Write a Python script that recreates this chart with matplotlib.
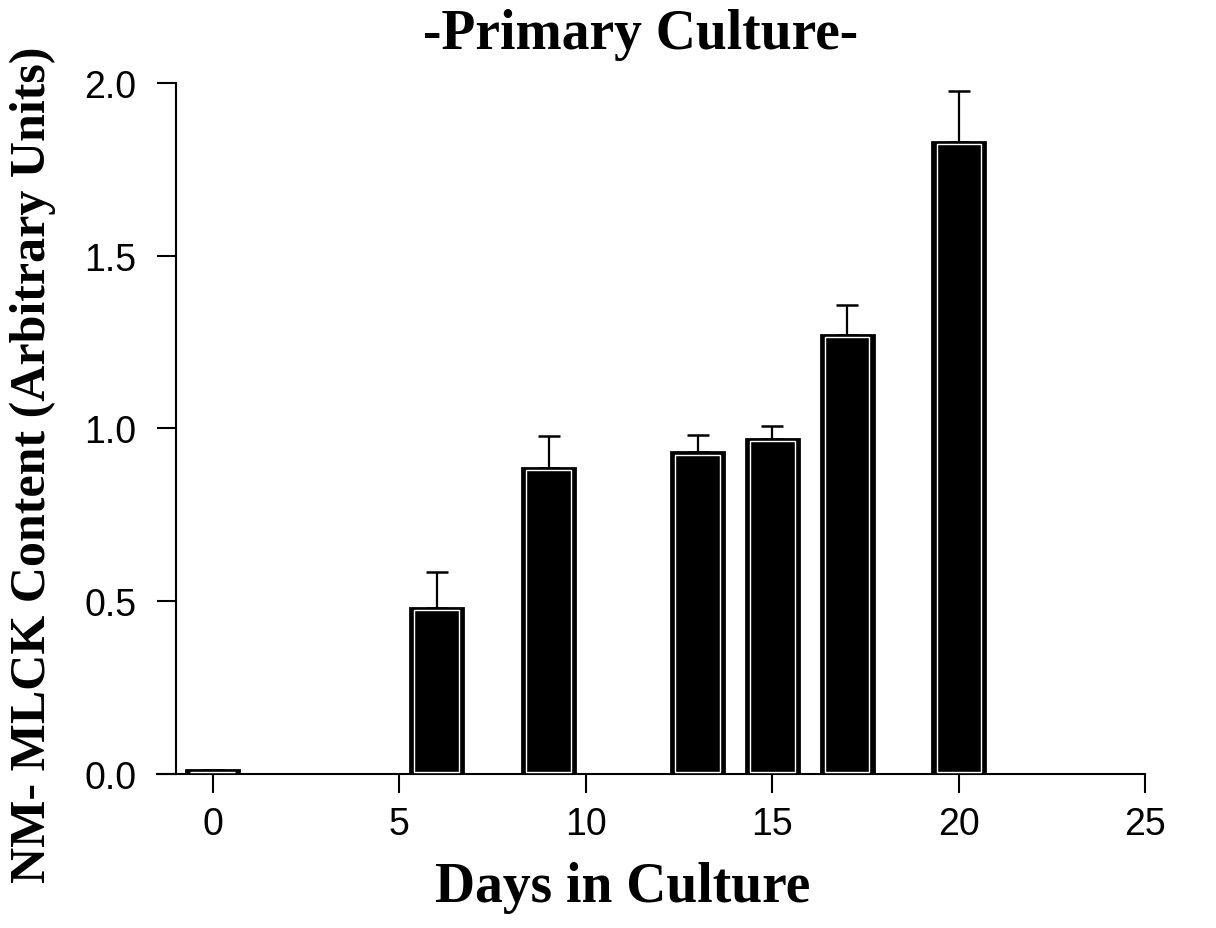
import numpy as np
import matplotlib
matplotlib.use("Agg")
import matplotlib.pyplot as plt

# NM-MLCK content over days in primary culture
days = [0, 6, 9, 13, 15, 17, 20]
content = [0.01, 0.48, 0.885, 0.93, 0.97, 1.27, 1.83]
sem = [0.0, 0.105, 0.093, 0.051, 0.037, 0.087, 0.147]

xticks = [0, 5, 10, 15, 20, 25]
yticks = [0.0, 0.5, 1.0, 1.5, 2.0]

serif = "Liberation Serif"
sans = "Liberation Sans"

fig = plt.figure(figsize=(12.16, 9.29), dpi=100)
ax = fig.add_axes([0.129, 0.166, 0.813, 0.7438])

bar_w = 1.42
ax.bar(days, content, width=bar_w, color="black", edgecolor="black",
       linewidth=2, zorder=2)
# thin light rim just inside each bar
inner = np.array(content) - 0.012
ax.bar(days, np.clip(inner, 0, None), width=bar_w - 0.22, bottom=0.006,
       fill=False, edgecolor="white", linewidth=1.0, zorder=3)

ax.errorbar(days, content, yerr=[np.zeros(len(sem)), sem], fmt="none",
            ecolor="black", elinewidth=1.6, capsize=8, capthick=1.8, zorder=1)

ax.set_xlim(-1.5, 25)
ax.set_ylim(0, 2.0)
ax.spines["left"].set_position(("data", -1))
ax.spines["left"].set_bounds(0, 2.0)
ax.spines["top"].set_visible(False)
ax.spines["right"].set_visible(False)
for s in ("left", "bottom"):
    ax.spines[s].set_linewidth(1.5)

ax.set_xticks(xticks)
ax.set_yticks(yticks)
ax.set_yticklabels([f"{v:.1f}" for v in yticks])
ax.tick_params(axis="both", direction="out", length=14, width=1.5,
               labelsize=27)
ax.tick_params(axis="y", pad=14)
ax.tick_params(axis="x", pad=9)
for lbl in ax.get_xticklabels() + ax.get_yticklabels():
    lbl.set_fontfamily(sans)

fig.text(0.527, 0.962, "-Primary Culture-", ha="center", va="center",
         fontsize=40, fontweight="bold", family=serif)
fig.text(0.512, 0.044, "Days in Culture", ha="center", va="center",
         fontsize=40, fontweight="bold", family=serif)
fig.text(0.027, 0.5, "NM- MLCK Content (Arbitrary Units)", ha="center",
         va="center", rotation=90, fontsize=36, fontweight="bold",
         family=serif)

fig.savefig("out.png", dpi=100)
